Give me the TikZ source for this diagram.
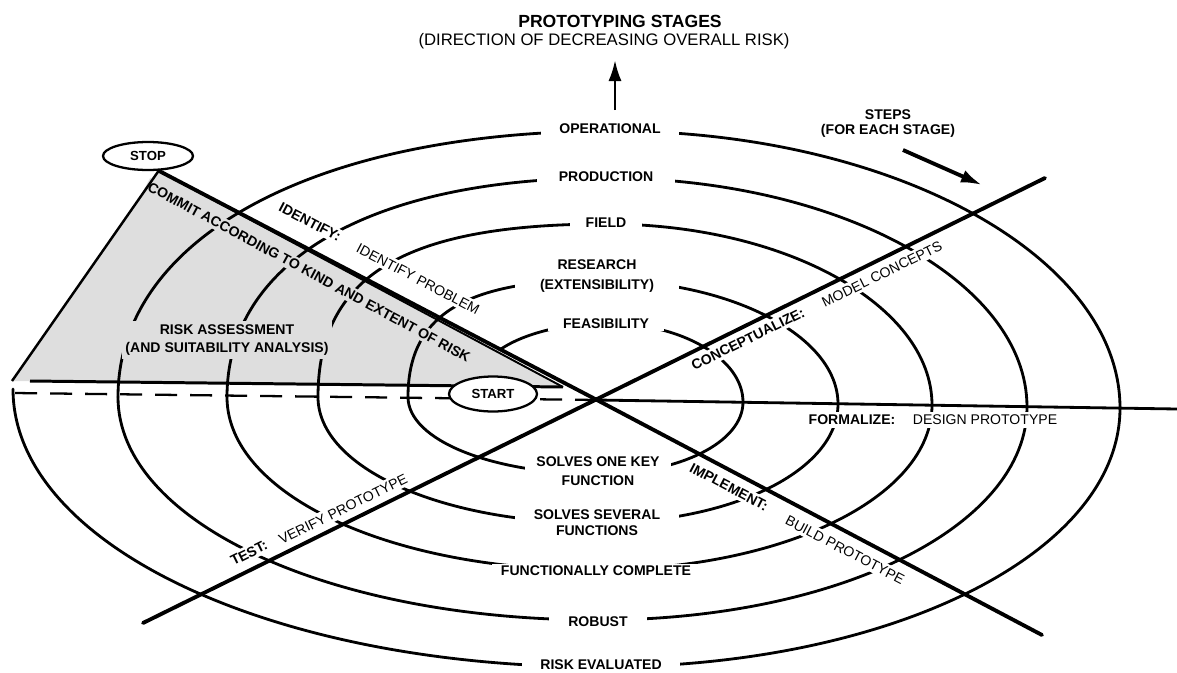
\documentclass[tikz,border=0pt]{standalone}
\usepackage{fontspec}
\setmainfont{Liberation Sans}
\usetikzlibrary{positioning, arrows.meta, shapes.geometric}
\newcommand\lblsize{\fontsize{8}{11}\selectfont}
\tikzset{
	spiral/.style={line width=1.6pt, line cap=round},
	axis/.style={line width=2.2pt, line cap=round},
	edge/.style={line width=1.3pt},
	stage/.style={fill=white, inner xsep=10pt, inner ysep=1pt, align=center, font=\lblsize\bfseries},
	phase/.style={fill=white, inner sep=1.5pt, font=\lblsize\bfseries},
	task/.style={fill=white, inner sep=1.5pt, font=\lblsize},
	endpoint/.style={draw, ellipse, line width=1.3pt, fill=white, inner sep=0pt, font=\fontsize{7.5}{9}\selectfont\bfseries},
	risk/.style={fill=black!13},
}

\begin{document}
\begin{tikzpicture}[x=0.02cm, y=-0.02cm, font=\lblsize, >={Latex[length=12pt, width=7.5pt]}]
	\useasboundingbox (0,0) rectangle (1177,673);
	
	\coordinate (hub) at (597,400);
	\coordinate (aLow) at (143,623);
	\coordinate (aHigh) at (1045,178);
	\coordinate (bEnd) at (1042,635);
	\coordinate (triL) at (12,381);
	\coordinate (triR) at (563,387);
	\coordinate (baseL) at (30,381);
	\coordinate (dashL) at (14,393);
	\coordinate (rEnd) at (1177,409);
	
	\node (stop) [endpoint, minimum width=1.8cm, minimum height=0.56cm] at (148,156) {STOP};
	\coordinate (apex) at (stop.-54);
	
	% risk assessment wedge
	\fill[risk] (apex) -- (triL) -- (triR) -- cycle;
	
	% the spiral, a quarter turn at a time: side point / apex / bulge
	\foreach \sx/\sy/\ax/\ay/\k in {
		743/402/606/323/0.55,
		408/397/598/280/0.7, 838/404/598/280/0.55,
		318/397/606/224/0.7, 932/405/606/224/0.55,
		227/397/606/178/0.62, 1027/407/606/178/0.55,
		118/397/612/131/0.6, 1120/408/612/131/0.55,
		743/402/599/474/0.56, 408/397/599/474/0.56,
		838/404/597/523/0.56, 318/397/597/523/0.56,
		932/405/594/570/0.56, 227/397/594/570/0.56,
		1027/407/598/620/0.56, 118/397/598/620/0.56,
		1120/408/601/667/0.56, 13/389/601/667/0.56}
		\draw[spiral] (\sx,\sy) .. controls (\sx,{\sy+\k*(\ay-\sy)}) and ({\ax+\k*(\sx-\ax)},\ay) .. (\ax,\ay);
	\draw[spiral] (501,349) .. controls (528,331) and (572,323) .. (606,323);
	
	% stages
	\node (oper) [stage, inner xsep=10.5pt] at (610,129) {OPERATIONAL};
	\node (prod) [stage, inner xsep=12.5pt] at (606,177) {PRODUCTION};
	\node (field) [stage, inner xsep=9pt] at (606,223) {FIELD};
	\node (research) [stage, inner xsep=14.5pt, font=\fontsize{8}{11.4}\selectfont\bfseries] at (597,276) {RESEARCH\\(EXTENSIBILITY)};
	\node (feas) [stage, inner xsep=8.5pt] at (606,324) {FEASIBILITY};
	\node (onekey) [stage, inner xsep=6.5pt] at (598,471) {SOLVES ONE KEY\\FUNCTION};
	\node (several) [stage, inner xsep=11pt, font=\fontsize{8}{9}\selectfont\bfseries] at (597,523) {SOLVES SEVERAL\\FUNCTIONS};
	\node (complete) [stage, inner xsep=5pt] at (596,571) {FUNCTIONALLY COMPLETE};
	\node (robust) [stage, inner xsep=11pt] at (598,622) {ROBUST};
	\node (evaluated) [stage, inner xsep=10.5pt] at (601,665) {RISK EVALUATED};
	
	% steps
	\node (identify) [phase, rotate=-27.7] at (310,222) {IDENTIFY:};
	\node (problem) [task, rotate=-27.7] at (418,279) {IDENTIFY PROBLEM};
	\node (concept) [phase, rotate=26.2] at (748,339) {CONCEPTUALIZE:};
	\node (model) [task, rotate=26.2] at (882,274) {MODEL CONCEPTS};
	\node (formal) [phase] at (852,420) {FORMALIZE:};
	\node (design) [task] at (985,420) {DESIGN PROTOTYPE};
	\node (implement) [phase, rotate=-27.7] at (729,487) {IMPLEMENT:};
	\node (build) [task, rotate=-27.7] at (845,550) {BUILD PROTOTYPE};
	\node (test) [phase, rotate=26.2] at (249,553) {TEST:};
	\node (verify) [task, rotate=26.2] at (343,509) {VERIFY PROTOTYPE};
	
	\node (commit) [phase, risk, rotate=-28.3] at (309,272) {COMMIT ACCORDING TO KIND AND EXTENT OF RISK};
	\node (assess) [risk, align=center, inner sep=2pt, font=\fontsize{8}{10.2}\selectfont\bfseries] at (227,340) {RISK ASSESSMENT\\(AND SUITABILITY ANALYSIS)};
	
	% axes
	\draw[axis] (aLow) -- (aHigh);
	\draw[axis] (apex) -- (hub) -- (bEnd);
	\draw[edge, line width=1.1pt] (apex) -- (triR);
	\draw[edge, line width=1.7pt] (triR) -- (baseL);
	\draw[edge, line width=1.4pt] (apex) -- (triL);
	\draw[spiral] (hub) -- (rEnd);
	\draw[line width=1.3pt, dash pattern=on 0.44cm off 0.26cm] (hub) -- (dashL);
	\node (start) [endpoint, minimum width=1.76cm, minimum height=0.7cm] at (493,394) {START};
	
	% headings
	\node (title) [font=\fontsize{10}{12}\selectfont\bfseries] at (620,21) {PROTOTYPING STAGES};
	\node (titlesub) [font=\fontsize{9.5}{11}\selectfont] at (604,41) {(DIRECTION OF DECREASING OVERALL RISK)};
	\node (steps) [align=center, font=\fontsize{8}{8.5}\selectfont\bfseries] at (888,124) {STEPS\\(FOR EACH STAGE)};
	
	\coordinate (upFoot) at (615,110);
	\coordinate (upTip) at (615,60);
	\coordinate (stepFoot) at (903,150);
	\coordinate (stepTip) at (982,185);
	\draw[->, line width=1.6pt] (upFoot) -- (upTip);
	\draw[->, line width=2.2pt] (stepFoot) -- (stepTip);
\end{tikzpicture}
\end{document}
